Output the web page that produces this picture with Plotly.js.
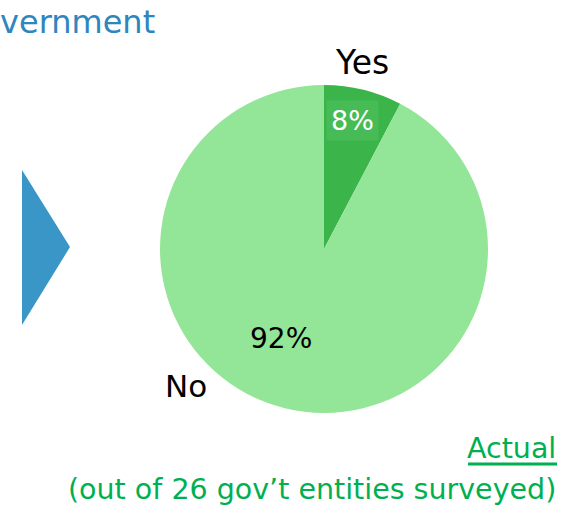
<!DOCTYPE html>
<html>
<head>
<meta charset="utf-8">
<script src="https://cdn.plot.ly/plotly-3.0.1.min.js"></script>
<style>html,body{margin:0;padding:0;background:#fff;}#chart{width:577px;height:507px;}</style>
</head>
<body>
<div id="chart"></div>
<script>
const categories = ["Yes", "No"];
const counts = [2, 24];
const sliceColors = ["#3BB54A", "#93E597"];
const pctColors = ["#ffffff", "#000000"];
const pctBoxColors = ["#47BC56", "rgba(0,0,0,0)"];

const W = 577, H = 507;
const px = x => x / W;
const py = y => 1 - y / H;

const FONT = "DejaVu Sans, Verdana, sans-serif";
const total = counts.reduce((a, b) => a + b, 0);
const pct = counts.map(v => Math.round(100 * v / total) + "%");

const trace = {
  type: "pie",
  labels: categories,
  values: counts,
  sort: false,
  direction: "clockwise",
  rotation: 0,
  marker: { colors: sliceColors, line: { width: 0 } },
  textinfo: "none",
  hoverinfo: "label+percent",
  showlegend: false,
  domain: { x: [px(160), px(488)], y: [py(413), py(85)] }
};

const layout = {
  width: W, height: H,
  margin: { l: 0, r: 0, t: 0, b: 0 },
  paper_bgcolor: "#ffffff",
  plot_bgcolor: "#ffffff",
  showlegend: false,
  shapes: [
    { type: "path", xref: "paper", yref: "paper",
      path: `M ${px(22)} ${py(170)} L ${px(70)} ${py(247)} L ${px(22)} ${py(325)} Z`,
      fillcolor: "#3A96C6", line: { width: 0 } },
    { type: "line", xref: "paper", yref: "paper",
      x0: px(468), x1: px(557), y0: py(464), y1: py(464),
      line: { color: "#00B050", width: 3 } }
  ],
  annotations: [
    { text: "vernment", xref: "paper", yref: "paper", x: px(-2), y: py(22),
      xanchor: "left", yanchor: "middle", showarrow: false,
      font: { family: FONT, size: 32, color: "#2E86BE" } },
    { text: categories[0], xref: "paper", yref: "paper", x: px(362), y: py(63),
      xanchor: "center", yanchor: "middle", showarrow: false,
      font: { family: FONT, size: 33, color: "#000000" } },
    { text: categories[1], xref: "paper", yref: "paper", x: px(186), y: py(386),
      xanchor: "center", yanchor: "middle", showarrow: false,
      font: { family: FONT, size: 31, color: "#000000" } },
    { text: pct[0], xref: "paper", yref: "paper", x: px(353), y: py(120),
      xanchor: "center", yanchor: "middle", showarrow: false,
      bgcolor: pctBoxColors[0], borderpad: 4,
      font: { family: FONT, size: 27, color: pctColors[0] } },
    { text: pct[1], xref: "paper", yref: "paper", x: px(281), y: py(338),
      xanchor: "center", yanchor: "middle", showarrow: false,
      font: { family: FONT, size: 28, color: pctColors[1] } },
    { text: "Actual", xref: "paper", yref: "paper", x: px(558), y: py(448),
      xanchor: "right", yanchor: "middle", showarrow: false,
      font: { family: FONT, size: 28.5, color: "#00B050" } },
    { text: "(out of 26 gov’t entities surveyed)", xref: "paper", yref: "paper", x: px(558), y: py(489),
      xanchor: "right", yanchor: "middle", showarrow: false,
      font: { family: FONT, size: 28.5, color: "#00B050" } }
  ]
};

Plotly.newPlot("chart", [trace], layout, { staticPlot: true, displayModeBar: false });
</script>
</body>
</html>
